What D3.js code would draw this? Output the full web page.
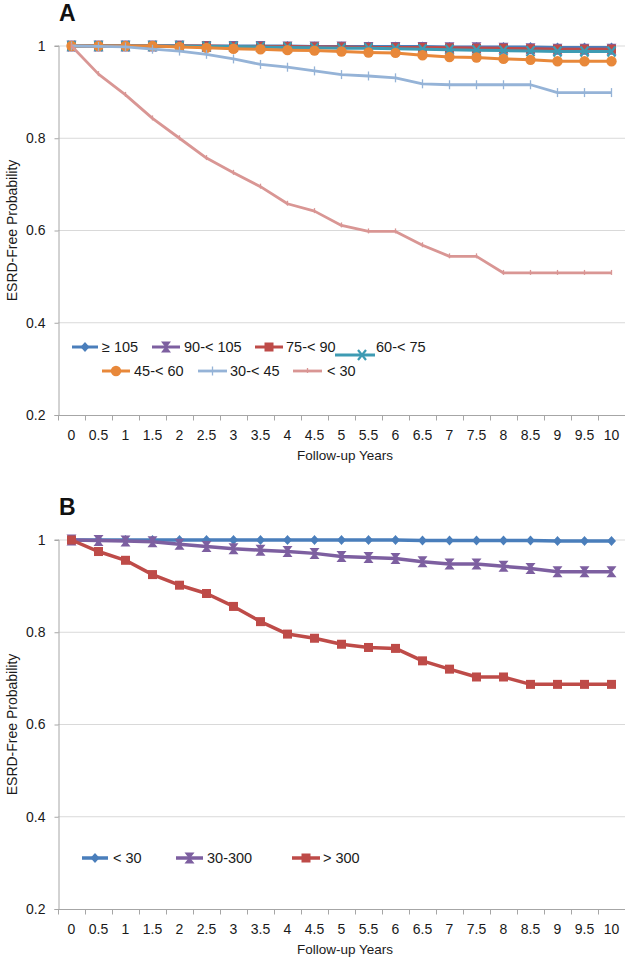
<!DOCTYPE html>
<html>
<head>
<meta charset="utf-8">
<script src="https://cdn.jsdelivr.net/npm/d3@7"></script>
<style>
  body { margin: 0; background: #fff; }
  svg { display: block; font-family: "Liberation Sans", Arial, sans-serif; }
</style>
</head>
<body>
<svg id="chart" width="625" height="957"></svg>
<script>
// follow-up years (category axis)
var years = ["0","0.5","1","1.5","2","2.5","3","3.5","4","4.5","5","5.5","6","6.5","7","7.5","8","8.5","9","9.5","10"];
var yTicks = [0.2, 0.4, 0.6, 0.8, 1];

// panel A: eGFR groups
var egfrNames = ["\u2265 105", "90-< 105", "75-< 90", "60-< 75", "45-< 60", "30-< 45", "< 30"];
var egfr105 = [1,1,1,1,1,1,1,1,1,0.999,0.999,0.999,0.999,0.999,0.998,0.998,0.998,0.998,0.997,0.997,0.997];
var egfr90  = [1,1,1,1,1,0.999,0.999,0.999,0.998,0.998,0.998,0.997,0.997,0.997,0.996,0.996,0.995,0.994,0.993,0.993,0.993];
var egfr75  = [1,1,1,1,1,1,0.999,0.999,0.999,0.998,0.998,0.997,0.997,0.997,0.996,0.995,0.995,0.994,0.993,0.993,0.993];
var egfr60  = [1,1,1,1,1,0.999,0.999,0.998,0.997,0.996,0.995,0.995,0.994,0.993,0.992,0.991,0.990,0.989,0.988,0.988,0.988];
var egfr45  = [1,1,1,1,0.998,0.996,0.994,0.993,0.991,0.990,0.988,0.986,0.985,0.980,0.976,0.975,0.972,0.970,0.967,0.967,0.967];
var egfr30  = [1,0.999,0.998,0.993,0.989,0.982,0.972,0.960,0.954,0.946,0.938,0.935,0.931,0.918,0.916,0.916,0.916,0.916,0.899,0.899,0.899];
var egfrLow = [1,0.939,0.894,0.843,0.800,0.757,0.725,0.695,0.658,0.642,0.611,0.598,0.598,0.568,0.544,0.544,0.508,0.508,0.508,0.508,0.508];

// panel B: albuminuria groups
var uacrNames = ["< 30", "30-300", "> 300"];
var uacrLow  = [1,1,1,1,1,1,1,1,1,1,1,1,1,0.999,0.999,0.999,0.999,0.999,0.998,0.998,0.998];
var uacrMid  = [1,0.999,0.998,0.996,0.991,0.986,0.981,0.978,0.975,0.971,0.964,0.962,0.960,0.953,0.948,0.948,0.943,0.938,0.931,0.931,0.931];
var uacrHigh = [1,0.975,0.956,0.925,0.902,0.884,0.856,0.823,0.796,0.787,0.774,0.767,0.765,0.738,0.720,0.703,0.703,0.687,0.687,0.687,0.687];

var svg = d3.select("#chart");

// marker shapes
function marker(g, type, color){
  if (type == "diamond") {
    g.append("path").attr("d", "M0,-5L4.5,0L0,5L-4.5,0Z").attr("fill", color);
  } else if (type == "square") {
    g.append("rect").attr("x", -4.5).attr("y", -4.5).attr("width", 9).attr("height", 9).attr("fill", color);
  } else if (type == "circle") {
    g.append("circle").attr("r", 5.2).attr("fill", color);
  } else if (type == "hourglass") {
    g.append("path").attr("d", "M-5,-5.5L5,-5.5L0.8,0L5,5.5L-5,5.5L-0.8,0Z").attr("fill", color);
  } else if (type == "x") {
    g.append("path").attr("d", "M-4,-5L4,5M4,-5L-4,5").attr("stroke", color).attr("stroke-width", 2.2);
  } else if (type == "plus") {
    g.append("path").attr("d", "M0,-4.5V4.5").attr("stroke", color).attr("stroke-width", 1.3);
  } else if (type == "dash") {
    g.append("path").attr("d", "M0,-3V2").attr("stroke", color).attr("stroke-width", 1.3);
  }
}

function drawPanel(p){
  var x = d3.scaleBand().domain(years).range([58, 625]).padding(0);
  var y = d3.scaleLinear().domain([0.2, 1]).range([p.bottom, p.top]);
  var g = svg.append("g");

  // panel letter
  g.append("text").attr("x", 59).attr("y", p.top - 25)
    .attr("font-size", 23).attr("font-weight", "bold").attr("fill", "#111")
    .text(p.letter);

  // gridlines
  g.selectAll(".grid").data(yTicks.filter(function(d){ return d > 0.2; }))
    .enter().append("line")
    .attr("x1", 58).attr("x2", 625)
    .attr("y1", function(d){ return y(d); }).attr("y2", function(d){ return y(d); })
    .attr("stroke", "#d9d9d9").attr("stroke-width", 1);

  // y axis
  var yAxis = d3.axisLeft(y).tickValues(yTicks).tickSize(4).tickPadding(9)
    .tickFormat(function(d){ return d == 1 ? "1" : d3.format(".1f")(d); });
  var ya = g.append("g").attr("transform", "translate(58.5,0)").call(yAxis);
  ya.select(".domain").attr("stroke", "#a6a6a6").attr("d", "M-4," + (p.bottom + 0.5) + "H0.5V" + (p.top) + "H-4");
  ya.selectAll(".tick line").attr("stroke", "#a6a6a6");
  ya.selectAll(".tick text").attr("font-size", 14).attr("fill", "#1a1a1a").attr("font-family", null);

  // x axis (category boundaries as ticks)
  var xa = g.append("g").attr("transform", "translate(0," + (p.bottom + 0.5) + ")");
  xa.append("line").attr("x1", 58).attr("x2", 625).attr("stroke", "#a6a6a6");
  xa.selectAll(".xt").data(years).enter().append("line")
    .attr("x1", function(d){ return x(d) + 0.5; }).attr("x2", function(d){ return x(d) + 0.5; })
    .attr("y1", 0).attr("y2", 5).attr("stroke", "#a6a6a6");
  xa.selectAll(".xl").data(years).enter().append("text")
    .attr("x", function(d){ return x(d) + x.bandwidth() / 2; })
    .attr("y", 24).attr("text-anchor", "middle")
    .attr("font-size", 14).attr("fill", "#1a1a1a").text(function(d){ return d; });

  // axis titles
  g.append("text").attr("x", 345).attr("y", p.bottom + 45).attr("text-anchor", "middle")
    .attr("font-size", 13.5).attr("fill", "#1a1a1a").text("Follow-up Years");
  g.append("text").attr("transform", "translate(17," + ((p.top + p.bottom) / 2) + ") rotate(-90)")
    .attr("text-anchor", "middle").attr("font-size", 14).attr("fill", "#1a1a1a")
    .text("ESRD-Free Probability");

  // series
  var line = d3.line()
    .x(function(d, i){ return x(years[i]) + x.bandwidth() / 2; })
    .y(function(d){ return y(d); });

  p.series.forEach(function(s){
    g.append("path").datum(s.values).attr("d", line)
      .attr("fill", "none").attr("stroke", s.color).attr("stroke-width", s.width)
      .attr("stroke-linejoin", "round");
    g.selectAll(null).data(s.values).enter().append("g")
      .attr("transform", function(d, i){ return "translate(" + (x(years[i]) + x.bandwidth() / 2) + "," + y(d) + ")"; })
      .each(function(){ marker(d3.select(this), s.marker, s.mcolor || s.color); });
  });

  // legend
  p.series.forEach(function(s, k){
    var L = p.legend[k];
    var lg = g.append("g");
    lg.append("line").attr("x1", L.x1).attr("x2", L.x2).attr("y1", L.ly || L.y).attr("y2", L.ly || L.y)
      .attr("stroke", s.color).attr("stroke-width", s.width);
    var m = lg.append("g").attr("transform", "translate(" + (L.mx || (L.x1 + L.x2) / 2) + "," + (L.ly || L.y) + ")");
    marker(m, s.marker, s.mcolor || s.color);
    lg.append("text").attr("x", L.tx).attr("y", L.y).attr("dy", "0.35em")
      .attr("font-size", 14.5).attr("fill", "#1a1a1a").text(s.name);
  });
}

drawPanel({
  letter: "A", top: 46, bottom: 415,
  series: [
    {name: egfrNames[0], values: egfr105, color: "#4a7ebb", marker: "diamond", width: 3},
    {name: egfrNames[1], values: egfr90,  color: "#7d5fa0", marker: "hourglass", width: 3},
    {name: egfrNames[2], values: egfr75,  color: "#be4b48", marker: "square", width: 3},
    {name: egfrNames[3], values: egfr60,  color: "#3e9bb3", marker: "x", width: 3},
    {name: egfrNames[4], values: egfr45,  color: "#e8883a", marker: "circle", width: 3},
    {name: egfrNames[5], values: egfr30,  color: "#95b3d7", marker: "plus", width: 2.8},
    {name: egfrNames[6], values: egfrLow, color: "#d99694", marker: "dash", width: 2.8}
  ],
  legend: [
    {x1: 72, x2: 98, tx: 102, y: 347},
    {x1: 152, x2: 180, tx: 184, y: 347},
    {x1: 255, x2: 283, tx: 286, y: 347},
    {x1: 335, x2: 375, tx: 376, y: 347, ly: 355, mx: 362},
    {x1: 102, x2: 130, tx: 134, y: 371},
    {x1: 198, x2: 227, tx: 230, y: 371},
    {x1: 293, x2: 322, tx: 327, y: 371}
  ]
});

drawPanel({
  letter: "B", top: 540, bottom: 909,
  series: [
    {name: uacrNames[0], values: uacrLow,  color: "#4a7ebb", marker: "diamond", width: 3.5},
    {name: uacrNames[1], values: uacrMid,  color: "#7d5fa0", marker: "hourglass", width: 3.5},
    {name: uacrNames[2], values: uacrHigh, color: "#be4b48", marker: "square", width: 3.5}
  ],
  legend: [
    {x1: 82, x2: 108, tx: 113, y: 858},
    {x1: 176, x2: 203, tx: 207, y: 858},
    {x1: 292, x2: 320, tx: 323, y: 858}
  ]
});
</script>
</body>
</html>
